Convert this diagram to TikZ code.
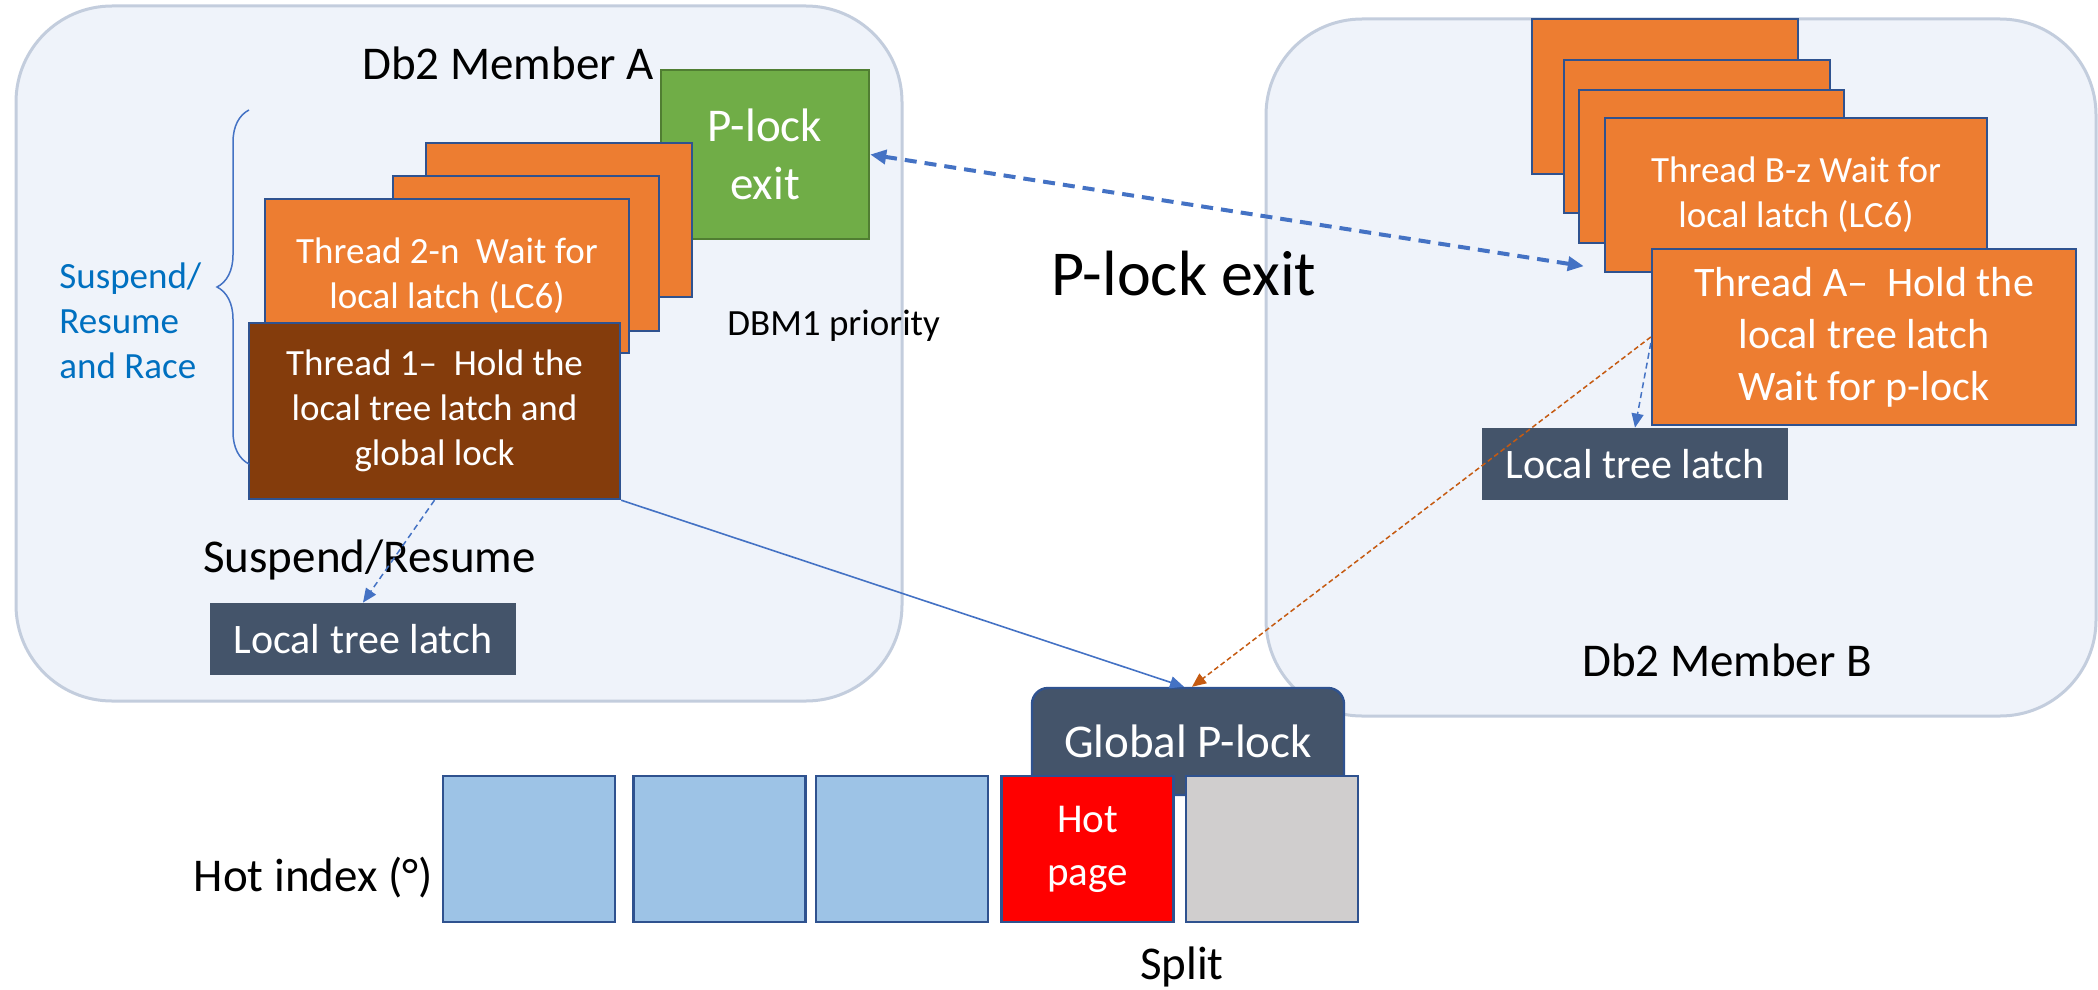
\documentclass[tikz,border=0pt]{standalone}
\usepackage{fontspec}
\setmainfont{Carlito}
\usepackage{tikz}
\usetikzlibrary{arrows.meta,
                calc,
                decorations.pathreplacing}

\definecolor{memfill}{HTML}{EFF3FA}
\definecolor{memline}{HTML}{C3CDDD}
\definecolor{orangec}{HTML}{ED7D31}
\definecolor{cardline}{HTML}{2F528F}
\definecolor{brownc}{HTML}{843C0C}
\definecolor{greenc}{HTML}{70AD47}
\definecolor{greenline}{HTML}{507E32}
\definecolor{slate}{HTML}{44546A}
\definecolor{lightb}{HTML}{9DC3E6}
\definecolor{grayc}{HTML}{D0CECE}
\definecolor{arrowblue}{HTML}{4472C4}
\definecolor{textblue}{HTML}{0070C0}
\definecolor{darkorange}{HTML}{C55A11}

\tikzset{
  member/.style={draw=memline, fill=memfill, line width=1.5pt, rounded corners=48pt},
  card/.style={draw=cardline, fill=orangec, line width=1.2pt},
  latch/.style={fill=slate, text=white, font=\fontsize{21}{25}\selectfont,
                minimum width=153pt, minimum height=36pt},
  page/.style={draw=cardline, line width=1.2pt, minimum width=86pt, minimum height=73pt},
  small/.style={font=\fontsize{18.5}{22.5}\selectfont},
  big/.style={font=\fontsize{23.5}{28.7}\selectfont},
}

\begin{document}
\begin{tikzpicture}[x=0.5pt, y=-0.5pt]
\useasboundingbox (0,0) rectangle (2098,990);

% the two members
\draw[member] (16,6) rectangle (902,701);
\draw[member] (1266,19) rectangle (2096,716);
\node[big] (nameA) at (508,63) {Db2 Member A};
\node[big] (nameB) at (1727,660) {Db2 Member B};

% member A
\node[draw=greenline, fill=greenc, line width=1.2pt, text=white, big, align=center,
      minimum width=104pt, minimum height=84.5pt] (pexit) at (765,154.5) {P-lock\\exit};
\foreach \l/\t/\r/\b in {426/143/692/297, 393/176/659/331}
  \draw[card] (\l,\t) rectangle (\r,\b);
\node[card, small, text=white, align=center, minimum width=182pt,
      minimum height=77pt] (t2n) at (447,276) {Thread 2-n \ Wait for\\local latch (LC6)};
\node[card, fill=brownc, small, text=white, align=center, minimum width=185.5pt,
      minimum height=88pt] (t1) at (434.5,411) {Thread 1– \ Hold the\\local tree latch and\\global lock};
\node[latch] (lA) at (363,639) {Local tree latch};

\draw[arrowblue, line width=0.75pt, decorate, decoration={brace, amplitude=16pt}]
  (249,464) -- (249,110);
\node[small, text=textblue, align=left, anchor=west, inner sep=0] (race) at (59,321)
  {Suspend/\\Resume\\and Race};
\node[small, anchor=west, inner sep=0] (prio) at (727,326) {DBM1 priority};
\node[big] (susp) at (369.5,560) {Suspend/Resume};

% member B
\foreach \l/\t/\r/\b in {1532/19/1798/174, 1564/60/1830/213, 1579/90/1844/243}
  \draw[card] (\l,\t) rectangle (\r,\b);
\node[card, small, text=white, align=center, minimum width=191pt,
      minimum height=77pt] (tBz) at (1796,195) {Thread B-z Wait for\\local latch (LC6)};
\node[card, text=white, align=center, font=\fontsize{21}{26}\selectfont, minimum width=212pt,
      minimum height=88pt] (tA) at (1864,337) {Thread A– \ Hold the\\local tree latch\\Wait for p-lock};
\node[latch] (lB) at (1635,464) {Local tree latch};

\node[font=\fontsize{32}{38}\selectfont] (plexit) at (1184,274) {P-lock exit};

% global lock and pages
\node[draw=cardline, fill=slate, line width=1.2pt, rounded corners=8pt, text=white, big,
      minimum width=156pt, minimum height=53.5pt] (gP) at (1188,741.5) {Global P-lock};
\foreach \x/\c/\n in {528.7/lightb/p1, 719.5/lightb/p2, 902/lightb/p3, 1271.7/grayc/p5}
  \node[page, fill=\c] (\n) at (\x,849) {};
\node[page, fill=red, text=white, align=center, font=\fontsize{20.5}{26.5}\selectfont]
  (hot) at (1087.5,849) {Hot\\page};
\node[big, anchor=east, inner sep=0] (hotidx) at (433,878) {Hot index (°)};
\node[big] (split) at (1182,967) {Split};

% connectors
\draw[arrowblue, line width=0.75pt, dash pattern=on 3pt off 2pt, -{Triangle[length=7pt, width=6pt]}]
  (t1.south) -- (lA.north);
\draw[arrowblue, line width=0.8pt, -{Triangle[length=7pt, width=6pt]}]
  (t1.south east) -- ([xshift=-2pt]gP.north);
\draw[darkorange, line width=0.75pt, dash pattern=on 2.5pt off 1.5pt, -{Triangle[length=7pt, width=6pt]}]
  (tA.west) -- ([xshift=2pt]gP.north);
\draw[arrowblue, line width=0.75pt, dash pattern=on 3pt off 2pt, -{Triangle[length=7pt, width=6pt]}]
  ([yshift=-3pt]tA.west) -- (lB.north);
\draw[arrowblue, line width=2pt, dash pattern=on 6pt off 4pt,
      {Triangle[length=8pt, width=7pt]}-{Triangle[length=8pt, width=7pt]}]
  (pexit.east) -- ($(tBz.south west)+(-20,-7)$);
\end{tikzpicture}
\end{document}
